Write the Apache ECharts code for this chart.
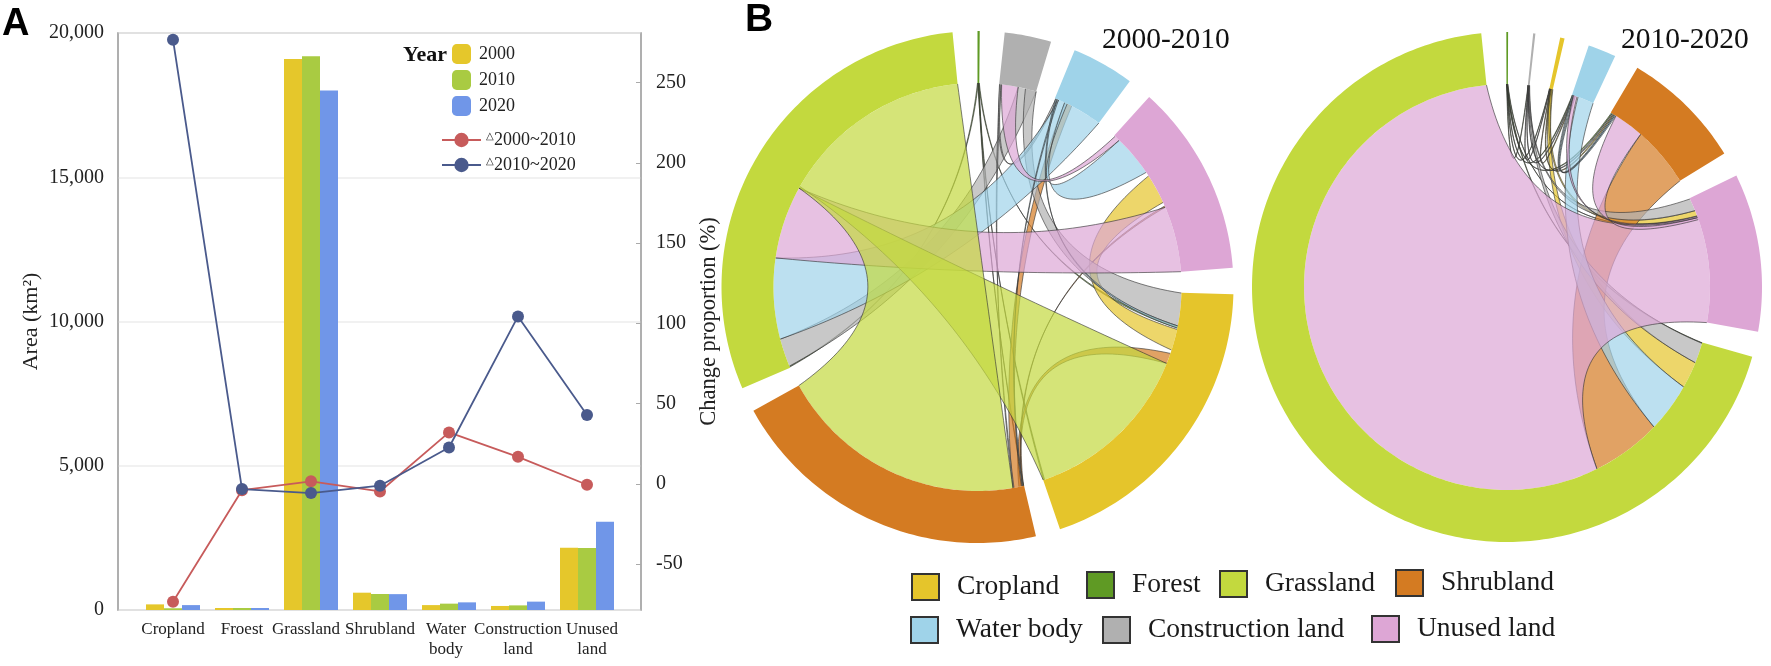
<!DOCTYPE html>
<html>
<head>
<meta charset="utf-8">
<style>html,body{margin:0;padding:0;background:#fff}#c{width:1771px;height:666px}</style>
<script src="https://cdn.jsdelivr.net/npm/echarts@6/dist/echarts.min.js"></script>
</head>
<body>
<div id="c"></div>
<script>
// ---- panel A ----
const categories = ['Cropland','Froest','Grassland','Shrubland','Water\nbody','Construction\nland','Unused\nland'];
const area2000 = [195, 70, 19100, 600, 170, 140, 2160];
const area2010 = [60, 70, 19190, 555, 220, 160, 2150];
const area2020 = [170, 70, 18010, 550, 265, 290, 3060];
const change0010 = [-73.5, -4, 1.5, -4.8, 32, 16.8, -0.6];
const change1020 = [276.8, -3.3, -5.8, -1.2, 22.6, 104.3, 42.8];
const rightTicks = [-50, 0, 50, 100, 150, 200, 250];

// ---- panel B ----
const CROP = 'Cropland', FOREST = 'Forest', GRASS = 'Grassland', SHRUB = 'Shrubland',
      WATER = 'Water body', BUILT = 'Construction land', UNUSED = 'Unused land';
const lands = [CROP, FOREST, GRASS, SHRUB, WATER, BUILT, UNUSED];
const landColors = ['#e5c52b', '#5f9a24', '#c3d93e', '#d47b22', '#9fd3e9', '#b0b0b0', '#dda6d5'];
const paintOrder = [1, 0, 3, 5, 4, 6, 2];

// sector order and totals, clockwise; each flow: land A, from..to along A, land B, from..to along B
const order0010 = [CROP, SHRUB, GRASS, FOREST, BUILT, WATER, UNUSED];
const total0010 = [69.6, 74.3, 107.7, 0.5, 10.6, 14.2, 43.6];
const flows0010 = [
  [GRASS, 52.3, 52.8, CROP, 20.4, 69.6],
  [GRASS, 52.3, 107.7, SHRUB, 74.3, 3.2],
  [UNUSED, 24.9, 43.6, GRASS, 52.3, 31.5],
  [WATER, 1.2, 14.2, GRASS, 31.5, 8.5],
  [WATER, 3, 3.8, UNUSED, 13.7, 1.9],
  [UNUSED, 0.3, 1.9, BUILT, 5.4, 0.7],
  [BUILT, 5.4, 10.6, GRASS, 8.5, 0.5],
  [BUILT, 10.6, 7.5, CROP, 0.1, 9.4],
  [CROP, 10.4, 16.4, UNUSED, 23.4, 14.9],
  [SHRUB, 0.5, 1.5, CROP, 20.4, 17.4],
  [SHRUB, 3.2, 0.8, WATER, 3, 5.2],
  [SHRUB, 0.2, 0.5, UNUSED, 24.5, 24.9],
  [FOREST, 0, 0.25, GRASS, 0.2, 0.4],
  [FOREST, 0.2, 0.4, SHRUB, 0.1, 0.25],
  [FOREST, 0.1, 0.3, CROP, 69.2, 69.5],
  [FOREST, 0.3, 0.5, CROP, 9.5, 10],
  [BUILT, 0.2, 0.6, SHRUB, 2.9, 3.2],
  [BUILT, 0.1, 0.5, WATER, 0.3, 0.8],
  [WATER, 0.8, 1.1, SHRUB, 0.3, 0.5],
  [WATER, 0.2, 0.5, CROP, 9.4, 10]
];

const order1020 = [GRASS, FOREST, BUILT, CROP, WATER, SHRUB, UNUSED];
const total1020 = [248.3, 0.4, 0.5, 1, 6.4, 27.7, 36];
const flows1020 = [
  [UNUSED, 5.9, 36, GRASS, 248.3, 47.8],
  [SHRUB, 10.45, 27.7, GRASS, 47.8, 27.7],
  [UNUSED, 5.9, 6.5, SHRUB, 1.75, 10.45],
  [WATER, 1.8, 6.4, GRASS, 27.7, 13.6],
  [CROP, 0, 1, GRASS, 13.6, 6],
  [BUILT, 0, 0.5, GRASS, 6, 0.2],
  [FOREST, 0, 0.2, GRASS, 0.2, 0.05],
  [UNUSED, 5.5, 5.9, WATER, 0.4, 1.5],
  [BUILT, 0.1, 0.4, UNUSED, 3.8, 0.2],
  [CROP, 0.2, 0.8, UNUSED, 5.4, 3.8],
  [FOREST, 0.05, 0.15, BUILT, 0.05, 0.15],
  [FOREST, 0.1, 0.2, CROP, 0.05, 0.15],
  [FOREST, 0.15, 0.25, WATER, 0.1, 0.3],
  [FOREST, 0.2, 0.3, SHRUB, 0.2, 0.5],
  [FOREST, 0.3, 0.4, UNUSED, 5.6, 5.7],
  [BUILT, 0.1, 0.2, CROP, 0.15, 0.25],
  [BUILT, 0.15, 0.25, WATER, 0.3, 0.5],
  [BUILT, 0.25, 0.35, SHRUB, 0.5, 0.8],
  [CROP, 0.3, 0.4, WATER, 0.5, 0.7],
  [CROP, 0.4, 0.6, SHRUB, 0.8, 1.1],
  [WATER, 0.1, 0.4, SHRUB, 1.1, 1.4],
  [WATER, 0.7, 1, SHRUB, 1.4, 1.7]
];

// ---- layout of the sectors from the totals ----
function layoutSectors(order, totals, firstAngle, gap) {
  const starts = {};
  let a = firstAngle;
  order.forEach((n, i) => { starts[n] = [a, a + totals[i]]; a += totals[i] + gap; });
  return starts;
}
function rowsFor(land, order, totals, flows, firstAngle, gap) {
  const s = layoutSectors(order, totals, firstAngle, gap);
  const rows = flows.filter(f => f[0] === land).map(f =>
    [1, s[f[0]][0] + f[1], s[f[0]][0] + f[2], s[f[3]][0] + f[4], s[f[3]][0] + f[5]]);
  rows.push([0, s[land][0], s[land][1], 0, 0]);
  return rows;
}
function rgba(hex, a) {
  const n = parseInt(hex.slice(1), 16);
  return 'rgba(' + (n >> 16) + ',' + ((n >> 8) & 255) + ',' + (n & 255) + ',' + a + ')';
}
function makeRender(color, rIn) {
  return function (params, api) {
    const pt = (r, a) => api.coord([r, ((a % 360) + 360) % 360]);
    const arc = (r, a, b) => {
      const n = Math.max(2, Math.ceil(Math.abs(b - a)));
      const out = [];
      for (let i = 0; i <= n; i++) out.push(pt(r, a + (b - a) * i / n));
      return out;
    };
    const edge = (a, b) => {
      const ra = a * Math.PI / 180, rb = b * Math.PI / 180;
      const bis = Math.atan2(Math.sin(ra) + Math.sin(rb), Math.cos(ra) + Math.cos(rb)) * 180 / Math.PI;
      let d = Math.abs(((a - b) % 360 + 360) % 360); if (d > 180) d = 360 - d;
      const ratio = 0.03 + 0.25 * (1 - d / 180);
      const p0 = pt(rIn, a), p1 = pt(ratio * rIn, bis), p2 = pt(rIn, b);
      const out = [];
      for (let i = 0; i <= 48; i++) {
        const t = i / 48, u = 1 - t;
        out.push([u * u * p0[0] + 2 * u * t * p1[0] + t * t * p2[0], u * u * p0[1] + 2 * u * t * p1[1] + t * t * p2[1]]);
      }
      return out;
    };
    const kind = api.value(0), a0 = api.value(1), a1 = api.value(2), b0 = api.value(3), b1 = api.value(4);
    if (kind === 0) {
      const pts = arc(1, a0, a1).concat(arc(rIn, a1, a0));
      return { type: 'polygon', shape: { points: pts }, style: { fill: color, stroke: null }, z2: 10 };
    }
    const e1 = edge(a1, b1), e2 = edge(b0, a0);
    const pts = arc(rIn, a0, a1).concat(e1, arc(rIn, b1, b0), e2);
    const lineStyle = { fill: null, stroke: 'rgba(50,50,50,0.62)', lineWidth: 1 };
    return { type: 'group', children: [
      { type: 'polygon', shape: { points: pts }, style: { fill: rgba(color, 0.7), stroke: null } },
      { type: 'polyline', shape: { points: e1 }, style: lineStyle },
      { type: 'polyline', shape: { points: e2 }, style: lineStyle }
    ] };
  };
}

const serif = 'Liberation Serif';
const series = [
  { name: '2000', type: 'bar', xAxisIndex: 1, yAxisIndex: 2, data: area2000, barWidth: 18, barGap: '0%', itemStyle: { color: '#e5c72b' } },
  { name: '2010', type: 'bar', xAxisIndex: 1, yAxisIndex: 2, data: area2010, barWidth: 18, barGap: '0%', itemStyle: { color: '#a9cb42' } },
  { name: '2020', type: 'bar', xAxisIndex: 1, yAxisIndex: 2, data: area2020, barWidth: 18, barGap: '0%', itemStyle: { color: '#7096e8' } },
  { name: '△2000~2010', type: 'line', xAxisIndex: 1, yAxisIndex: 3, data: change0010, symbol: 'circle', symbolSize: 12,
    lineStyle: { color: '#c75b5b', width: 1.8 }, itemStyle: { color: '#c75b5b' }, z: 5 },
  { name: '△2010~2020', type: 'line', xAxisIndex: 1, yAxisIndex: 3, data: change1020, symbol: 'circle', symbolSize: 12,
    lineStyle: { color: '#4a5a8c', width: 1.8 }, itemStyle: { color: '#4a5a8c' }, z: 6 }
];
paintOrder.forEach(i => {
  const land = lands[i];
  [[order0010, total0010, flows0010, 1.6, 5.6, 0, 0.797], [order1020, total1020, flows1020, 15.9, 5.65, 1, 0.796]].forEach(c => {
    series.push({
      name: land, type: 'custom', coordinateSystem: 'polar', polarIndex: c[5],
      renderItem: makeRender(landColors[i], c[6]), clip: false, silent: true,
      itemStyle: { color: landColors[i] }, encode: { radius: 0, angle: 1 },
      data: rowsFor(land, c[0], c[1], c[2], c[3], c[4])
    });
  });
});

// land-use legend entries: one placed box per land
const landLegendPos = [[906, 568], [1081, 566], [1214, 565], [1390, 564], [905, 611], [1097, 611], [1366, 610]];
const landLegends = lands.map((land, i) => ({
  data: [{ name: land, icon: 'rect' }], left: landLegendPos[i][0], top: landLegendPos[i][1],
  itemWidth: 27, itemHeight: 26, selectedMode: false,
  itemStyle: { borderColor: '#333', borderWidth: 2 },
  textStyle: { fontFamily: serif, fontSize: 27.5, color: '#1a1a1a', padding: [0, 0, 0, 13] }
}));

const axisTxt = { fontFamily: serif, fontSize: 20, color: '#222' };
const catLabels = categories.map((c, i) => i === 2 ? { value: c, textStyle: { padding: [0, 10, 0, 0] } }
  : i === 4 ? { value: c, textStyle: { padding: [0, 6, 0, 0] } }
  : i === 6 ? { value: c, textStyle: { padding: [0, 0, 0, 10] } } : c);
const option = {
  animation: false,
  backgroundColor: '#fff',
  title: [
    { text: 'A', left: -3, top: 1, textStyle: { fontFamily: 'Liberation Sans', fontWeight: 'bold', fontSize: 38, color: '#000' } },
    { text: 'B', left: 740, top: -4, textStyle: { fontFamily: 'Liberation Sans', fontWeight: 'bold', fontSize: 39, color: '#000' } },
    { text: '2000-2010', left: 1097, top: 20, textStyle: { fontFamily: serif, fontWeight: 'normal', fontSize: 29.5, color: '#111' } },
    { text: '2010-2020', left: 1616, top: 20, textStyle: { fontFamily: serif, fontWeight: 'normal', fontSize: 29.5, color: '#111' } },
    { text: 'Year', left: 398, top: 39, textStyle: { fontFamily: serif, fontWeight: 'bold', fontSize: 22, color: '#111' } }
  ],
  legend: [
    { data: ['2000', '2010', '2020'], orient: 'vertical', left: 447, top: 39, itemWidth: 19, itemHeight: 20, itemGap: 6, selectedMode: false,
      textStyle: { fontFamily: serif, fontSize: 18, color: '#222', padding: [0, 0, 0, 3] } },
    { data: ['△2000~2010', '△2010~2020'], orient: 'vertical', left: 436, top: 126, itemWidth: 39, itemHeight: 18, itemGap: 7, selectedMode: false,
      formatter: n => '{t|△}{n|' + n.slice(1) + '}',
      textStyle: { rich: { t: { fontFamily: serif, fontSize: 10, color: '#222', verticalAlign: 'top' }, n: { fontFamily: serif, fontSize: 18, color: '#222' } } } }
  ].concat(landLegends),
  grid: [
    { left: 118, top: 33, width: 523, height: 577, show: true, borderColor: '#aaa', borderWidth: 1.5, backgroundColor: 'transparent' },
    { left: 138.5, top: 33, width: 483, height: 577 }
  ],
  xAxis: [
    { gridIndex: 0, type: 'value', min: 0, max: 1, show: false },
    { gridIndex: 1, type: 'category', data: catLabels, boundaryGap: true,
      axisLine: { show: false }, axisTick: { show: false },
      axisLabel: { interval: 0, fontFamily: serif, fontSize: 17, lineHeight: 20, color: '#222', margin: 10 } }
  ],
  yAxis: [
    { gridIndex: 0, type: 'value', min: 0, max: 20000, interval: 5000, position: 'left',
      name: 'Area (km²)', nameLocation: 'middle', nameGap: 76, nameRotate: 90,
      nameTextStyle: { fontFamily: serif, fontSize: 22, color: '#222' },
      axisLine: { show: true, lineStyle: { color: '#aaa', width: 1.5 } }, axisTick: { show: false },
      axisLabel: Object.assign({ margin: 14, padding: [8, 0, 0, 0] }, axisTxt),
      splitLine: { show: true, lineStyle: { color: '#ececec', width: 1.5 } } },
    { gridIndex: 0, type: 'value', min: -78.7, max: 281, position: 'right',
      name: 'Change proportion (%)', nameLocation: 'middle', nameGap: 57, nameRotate: 90,
      nameTextStyle: { fontFamily: serif, fontSize: 22.5, color: '#222' },
      axisLine: { show: true, lineStyle: { color: '#aaa', width: 1.5 } },
      axisTick: { show: true, inside: true, length: 5, lineStyle: { color: '#aaa' }, customValues: rightTicks },
      axisLabel: Object.assign({ margin: 15, padding: [10, 0, 0, 0], customValues: rightTicks }, axisTxt),
      splitLine: { show: false } },
    { gridIndex: 1, type: 'value', min: 0, max: 20000, show: false, splitLine: { show: false } },
    { gridIndex: 1, type: 'value', min: -78.7, max: 281, show: false, splitLine: { show: false } }
  ],
  polar: [
    { center: [977.5, 287], radius: 256 },
    { center: [1507, 287], radius: 255 }
  ],
  angleAxis: [
    { polarIndex: 0, type: 'value', min: 0, max: 360, startAngle: 0, clockwise: true, show: false },
    { polarIndex: 1, type: 'value', min: 0, max: 360, startAngle: 0, clockwise: true, show: false }
  ],
  radiusAxis: [
    { polarIndex: 0, type: 'value', min: 0, max: 1, show: false },
    { polarIndex: 1, type: 'value', min: 0, max: 1, show: false }
  ],
  series: series
};
const chart = echarts.init(document.getElementById('c'), null, { renderer: 'canvas' });
chart.setOption(option);
</script>
</body>
</html>
